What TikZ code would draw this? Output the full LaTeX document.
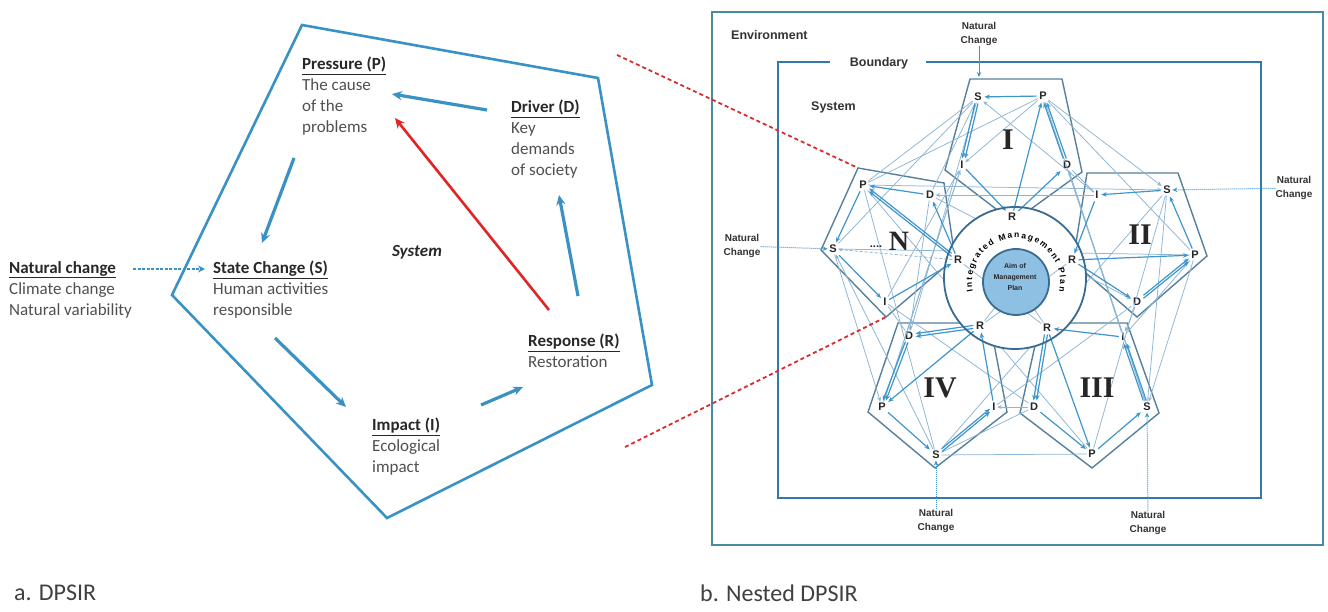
\documentclass[tikz,border=0pt]{standalone}
\usepackage{fontspec}
\setmainfont{Carlito}
\newfontfamily\arialf{Liberation Sans}
\newfontfamily\timesf{Liberation Serif}
\usetikzlibrary{arrows.meta,decorations.text,calc}

\definecolor{lblue}{RGB}{58,146,196}
\definecolor{lred}{RGB}{226,36,36}
\definecolor{ltxt}{RGB}{80,80,80}
\definecolor{lhead}{RGB}{40,40,40}
\definecolor{envc}{RGB}{72,138,160}
\definecolor{bndc}{RGB}{52,120,165}
\definecolor{pentc}{RGB}{88,128,155}
\definecolor{arrc}{RGB}{62,150,205}
\definecolor{webc}{RGB}{140,182,212}
\definecolor{ringc}{RGB}{58,108,145}
\definecolor{aimc}{RGB}{142,192,228}
\definecolor{dashred}{RGB}{215,45,45}

\begin{document}
\begin{tikzpicture}[x=1pt,y=-1pt,
  txt/.style={anchor=north west, align=left, inner sep=0pt,
    font=\fontsize{17}{21}\selectfont, text=ltxt},
  larr/.style={lblue, line width=3.2pt, -{Stealth[length=10pt,width=9pt]}},
  rarr/.style={lred, line width=2.6pt, -{Stealth[length=10pt,width=9pt]}},
  reddash/.style={dashred, line width=1.8pt, dash pattern=on 4pt off 3pt},
  pent/.style={pentc, line width=1.4pt, line join=miter},
  vl/.style={font=\arialf\bfseries\fontsize{11}{11}\selectfont, inner sep=1.5pt, text=black!85},
  rn/.style={font=\timesf\bfseries\fontsize{30}{30}\selectfont, inner sep=0pt, text=black!85},
  rlab/.style={font=\arialf\bfseries\fontsize{12.5}{12.5}\selectfont, inner sep=1pt, text=black!80},
  nclab/.style={font=\arialf\bfseries\fontsize{10}{13.5}\selectfont, align=center, inner sep=0pt, text=black!80},
  arr/.style={arrc, line width=1.2pt, -{Stealth[length=5.5pt,width=4.5pt]}, shorten >=1pt, shorten <=1pt},
  web/.style={webc, line width=0.75pt},
  weba/.style={webc, line width=0.75pt, -{Stealth[length=4.5pt,width=4pt]}},
  nca/.style={arrc, line width=1pt, densely dotted, -{Stealth[length=5pt,width=4.5pt]}},
]
\useasboundingbox (0,0) rectangle (1328,612);
\fill[white] (0,0) rectangle (1328,612);

% ---------------- a. DPSIR ----------------
\draw[lblue, line width=2.6pt, line join=miter] (302,25) -- (598,78) -- (652,385) -- (387,518) -- (172,295) -- cycle;

\node[txt] (P) at (302,57) {{\color{lhead}\underline{\textbf{Pressure (P)}}}\\The cause\\of the\\problems};
\node[txt] (D) at (511,100) {{\color{lhead}\underline{\textbf{Driver (D)}}}\\Key\\demands\\of society};
\node[txt] (S) at (213,261) {{\color{lhead}\underline{\textbf{State Change (S)}}}\\Human activities\\responsible};
\node[txt] (R) at (528,334) {{\color{lhead}\underline{\textbf{Response (R)}}}\\Restoration};
\node[txt] (I) at (372,418) {{\color{lhead}\underline{\textbf{Impact (I)}}}\\Ecological\\impact};
\node[txt] (NC) at (9,261) {{\color{lhead}\underline{\textbf{Natural change}}}\\Climate change\\Natural variability};
\node[font=\fontsize{17}{21}\selectfont\bfseries\itshape, text=lhead, inner sep=0pt] (sys) at (417,252) {System};

\draw[larr] ($(D.north west)+(-24,10)$) -- ($(P.north west)+(90,37)$);
\draw[larr] ($(P.north west)+(-8,101)$) -- ($(S.north west)+(49,-18)$);
\draw[larr] ($(S.north west)+(62,77)$) -- ($(I.north west)+(-26,-11)$);
\draw[larr] ($(I.north west)+(109,-13)$) -- ($(R.north west)+(-5,53)$);
\draw[larr] ($(R.north west)+(50,-38)$) -- ($(D.north west)+(48,95)$);
\draw[rarr] ($(R.north west)+(21,-24)$) -- ($(P.north west)+(93,61)$);
\draw[lblue, line width=2pt, dash pattern=on 3pt off 1.5pt, -{Stealth[length=7pt,width=7pt]}]
  ($(NC.north west)+(124,8)$) -- ($(S.north west)+(-8,8)$);

\node[font=\fontsize{24}{24}\selectfont, text=black!75, anchor=west, inner sep=0pt] (capa) at (14,593) {a. DPSIR};
\node[font=\fontsize{24}{24}\selectfont, text=black!75, anchor=west, inner sep=0pt] (capb) at (700,593) {b. Nested DPSIR};

% ---------------- b. Nested DPSIR ----------------
\draw[envc, line width=1.8pt] (712,12) rectangle (1323,545);
\draw[bndc, line width=1.8pt] (830,62) -- (778,62) -- (778,498) -- (1261,498) -- (1261,62) -- (926,62);
\node[rlab, anchor=west] (env) at (730,35) {Environment};
\node[rlab] (bnd) at (879,63) {Boundary};
\node[rlab, anchor=west] (sysr) at (810,107) {System};

% pentagons
\draw[pent] (970,79) -- (1062,79) -- (1082,172) -- (1013,222) -- (945,170) -- cycle;
\draw[pent] (1087,173) -- (1178,173) -- (1207,256) -- (1137,317) -- (1073,262) -- cycle;
\draw[pent] (1040,323) -- (1127,323) -- (1159,413) -- (1092,468) -- (1020,413) -- cycle;
\draw[pent] (898,323) -- (990,323) -- (1007,412) -- (935,468) -- (868,412) -- cycle;
\draw[pent] (858,168) -- (944,183) -- (955,258) -- (886,317) -- (821,250) -- cycle;
\coordinate (eTL) at (858,168);
\coordinate (eB) at (886,317);

% vertex labels
\node[vl] (aS) at (978,97) {S};
\node[vl] (aP) at (1043,96) {P};
\node[vl] (aD) at (1067,165) {D};
\node[vl] (aI) at (962,165) {I};
\node[vl] (aR) at (1012,217) {R};
\node[vl] (bI) at (1097,195) {I};
\node[vl] (bS) at (1167,190) {S};
\node[vl] (bP) at (1195,255) {P};
\node[vl] (bD) at (1137,302) {D};
\node[vl] (bR) at (1072,260) {R};
\node[vl] (cI) at (1123,337) {I};
\node[vl] (cS) at (1147,407) {S};
\node[vl] (cP) at (1092,454) {P};
\node[vl] (cD) at (1034,407) {D};
\node[vl] (cR) at (1047,328) {R};
\node[vl] (dD) at (909,336) {D};
\node[vl] (dP) at (882,407) {P};
\node[vl] (dS) at (936,455) {S};
\node[vl] (dI) at (994,407) {I};
\node[vl] (dR) at (980,326) {R};
\node[vl] (eP) at (863,185) {P};
\node[vl] (eD) at (930,195) {D};
\node[vl] (eS) at (833,249) {S};
\node[vl] (eI) at (885,302) {I};
\node[vl] (eR) at (958,260) {R};

% connecting web between the sub-systems
\draw[web] (aS) -- (eP);
\draw[web] (aP) -- (eP);
\draw[web] (aS) -- (eD);
\draw[weba] (bI) -- (aS);
\draw[weba] (aP) -- (bS);
\draw[web] (aP) -- (bP);
\draw[web] (aD) -- (bI);
\draw[web] (aI) -- (eI);
\draw[weba] (eP) -- (bS);
\draw[weba] (bI) -- (eD);
\draw[web] (aS) -- (eS);
\draw[weba] (bP) -- (cS);
\draw[web] (bS) -- (cS);
\draw[weba] (bD) -- (cI);
\draw[web] (bP) -- (cI);
\draw[web] (cP) -- (dS);
\draw[weba] (cD) -- (dI);
\draw[web] (cD) -- (dS);
\draw[weba] (eS) -- (dP);
\draw[web] (eI) -- (dD);
\draw[web] (eP) -- (dS);
\draw[weba] (dS) -- (eS);
\draw[weba] (eD) -- (dD);
\draw[web] (aP) -- (cS);
\draw[web] (aS) -- (dD);
\draw[web] (bS) -- (cP);
\draw[weba] (eD) -- (bD);
\draw[web] (eI) -- (cD);
\draw[web] (dI) -- (bD);
\draw[web] (aI) -- (dP);
\draw[web] (aD) -- (cI);
\draw[web] (eS) -- (bP);
\draw[weba] (cS) -- (aD);
\draw[weba] (dP) -- (aI);
\draw[web] (eP) -- (cP);
\draw[web] (bS) -- (dS);

% the ring
\fill[white] (1015,278) circle[radius=71];
\draw[web] (dR) -- (1016,282);
\draw[web] (cR) -- (1016,282);
\draw[web] (eR) -- (cR);
\draw[web] (bR) -- (dR);

% cycles inside each sub-system
\draw[arr] (aP) -- (aS);
\draw[arr, transform canvas={xshift=-1.5pt}] (aS) -- (aI);
\draw[arr, transform canvas={xshift=1.5pt}] (aS) -- (aI);
\draw[arr] (aI) -- (aR);
\draw[arr] (aR) -- (aD);
\draw[arr, transform canvas={xshift=-1.5pt}] (aD) -- (aP);
\draw[arr, transform canvas={xshift=1.5pt}] (aD) -- (aP);
\draw[arr] (aR) -- (aP);
\draw[weba] (aP) -- (aI);

\draw[arr] (bS) -- (bI);
\draw[arr] (bI) -- (bR);
\draw[arr] (bR) -- (bD);
\draw[arr, transform canvas={yshift=-1.5pt}] (bD) -- (bP);
\draw[arr, transform canvas={yshift=1.5pt}] (bD) -- (bP);
\draw[arr] (bP) -- (bS);
\draw[arr] (bR) -- (bP);

\draw[arr] (cI) -- (cR);
\draw[arr, transform canvas={xshift=-1.5pt}] (cR) -- (cD);
\draw[arr, transform canvas={xshift=1.5pt}] (cR) -- (cD);
\draw[arr] (cD) -- (cP);
\draw[arr] (cP) -- (cS);
\draw[arr, transform canvas={xshift=-1.5pt}] (cS) -- (cI);
\draw[arr, transform canvas={xshift=1.5pt}] (cS) -- (cI);
\draw[arr] (cR) -- (cP);

\draw[arr, transform canvas={yshift=-1.5pt}] (dR) -- (dD);
\draw[arr, transform canvas={yshift=1.5pt}] (dR) -- (dD);
\draw[arr, transform canvas={xshift=-1.5pt}] (dD) -- (dP);
\draw[arr, transform canvas={xshift=1.5pt}] (dD) -- (dP);
\draw[arr] (dP) -- (dS);
\draw[arr, transform canvas={yshift=-1.5pt}] (dS) -- (dI);
\draw[arr, transform canvas={yshift=1.5pt}] (dS) -- (dI);
\draw[arr] (dI) -- (dR);
\draw[arr] (dR) -- (dP);

\draw[arr] (eD) -- (eP);
\draw[arr] (eP) -- (eS);
\draw[arr] (eS) -- (eI);
\draw[arr] (eI) -- (eR);
\draw[arr] (eR) -- (eD);
\draw[arr, transform canvas={yshift=-1.5pt}] (eR) -- (eP);
\draw[arr, transform canvas={yshift=1.5pt}] (eR) -- (eP);
\draw[webc, line width=0.8pt, densely dashed, -{Stealth[length=4pt,width=3.5pt]}] (eR) -- (eS);

% rings of the integrated management plan
\draw[ringc, line width=1.8pt] (1015,278) circle[radius=71];
\draw[ringc, line width=1.8pt, fill=aimc] (1016,282) circle[radius=33];
\node[font=\arialf\bfseries\fontsize{7}{11}\selectfont, align=center, inner sep=0pt, text=black!85] (aim) at (1015,277) {Aim of\\Management\\Plan};
\begin{scope}[shift={(1016,282)}, y=1pt]
  \path[decorate, decoration={text along path, text align={fit to path},
     text={|\arialf\bfseries\fontsize{8.5}{8.5}\selectfont|Integrated Management Plan}}]
     (192:44) arc[start angle=192, end angle=-12, radius=44];
\end{scope}
\node[vl, fill=white, inner sep=0.5pt] at (aR) {R};
\node[vl, fill=white, inner sep=0.5pt] at (bR) {R};
\node[vl, fill=white, inner sep=0.5pt] at (cR) {R};
\node[vl, fill=white, inner sep=0.5pt] at (dR) {R};
\node[vl, fill=white, inner sep=0.5pt] at (eR) {R};

% sub-system numbers
\node[rn] (nI) at (1008,140) {I};
\node[rn] (nII) at (1140,235) {II};
\node[rn] (nIII) at (1097,388) {III};
\node[rn] (nIV) at (940,388) {IV};
\node[rn, font=\timesf\bfseries\fontsize{28}{28}\selectfont] (nN) at (899,241) {N};
\node[font=\arialf\bfseries\fontsize{11}{11}\selectfont, inner sep=0pt, text=black!85] (dots) at (876,247) {....};

% natural change from the environment
\node[nclab] (ncT) at (979,34) {Natural\\Change};
\node[nclab] (ncR) at (1294,188) {Natural\\Change};
\node[nclab] (ncL) at (742,246) {Natural\\Change};
\node[nclab] (ncB1) at (936,521) {Natural\\Change};
\node[nclab] (ncB2) at (1148,523) {Natural\\Change};
\draw[arrc, line width=1pt, -{Stealth[length=5pt,width=4.5pt]}] (ncT) -- (979,77);
\draw[nca] (ncR) -- (bS);
\draw[nca] (ncL) -- (eS);
\draw[nca] (ncB1) -- (dS);
\draw[nca] (ncB2) -- (cS);

% links from a. to b.
\coordinate (rdA) at (617,55);
\coordinate (rdB) at (625,447);
\draw[reddash] (rdA) -- (eTL);
\draw[reddash] (rdB) -- (eB);
\end{tikzpicture}
\end{document}
